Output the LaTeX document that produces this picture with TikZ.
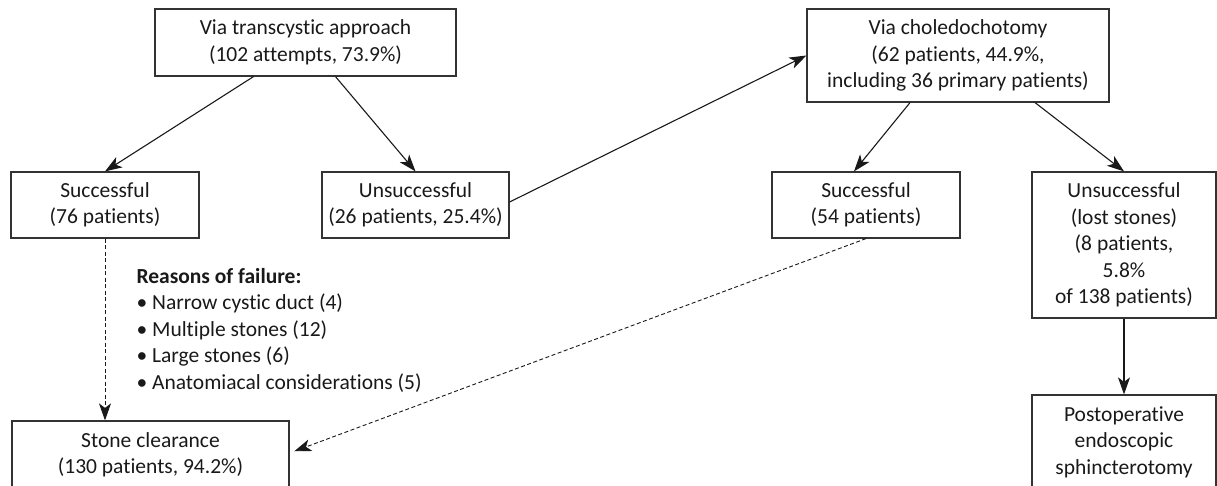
\documentclass[tikz,border=0pt]{standalone}
\usepackage{fontspec}
\setmainfont[Ligatures=NoCommon]{Carlito}
\usetikzlibrary{arrows.meta}
\begin{document}
\begin{tikzpicture}[x=1pt, y=-1pt, line width=1.1pt,
		box/.style={draw=black!80, line width=1.2pt, inner sep=0pt, align=center, text=black!90,
			font=\fontsize{21.5}{26.5}\selectfont},
		link/.style={draw=black!90, line width=1.1pt, -{Stealth[length=17pt, width=12pt, inset=4.5pt]}},
		dlink/.style={link, line width=0.9pt, dash pattern=on 4pt off 2.5pt}]
		\useasboundingbox (0,0) rectangle (1217,486);
		\clip (0,0) rectangle (1217,486);
		\node[box, minimum width=301, minimum height=67] (trans) at (305.5, 42.5) {Via transcystic approach\\(102 attempts, 73.9\%)};
		\node[box, minimum width=188, minimum height=66] (succL) at (105, 205) {Successful\\(76 patients)};
		\node[box, minimum width=187, minimum height=66] (unsL) at (415.5, 205) {Unsuccessful\\(26 patients, 25.4\%)};
		\node[box, minimum width=302, minimum height=93] (chol) at (958, 55.5) {Via choledochotomy\\(62 patients, 44.9\%,\\including 36 primary patients)};
		\node[box, minimum width=188, minimum height=66] (succR) at (866, 205) {Successful\\(54 patients)};
		\node[box, minimum width=184, minimum height=146] (unsR) at (1124, 245) {Unsuccessful\\(lost stones)\\(8 patients,\\5.8\%\\of 138 patients)};
		\node[box, minimum width=184, minimum height=94] (postop) at (1124, 442) {Postoperative\\endoscopic\\sphincterotomy};
		\node[box, minimum width=277, minimum height=68] (clear) at (150.5, 455) {Stone clearance\\(130 patients, 94.2\%)};
		\node[anchor=west, align=left, inner sep=0pt, text=black!90, font=\fontsize{21.5}{26.5}\selectfont] (reasons) at (136, 330)
			{\textbf{Reasons of failure:}\\• Narrow cystic duct (4)\\• Multiple stones (12)\\• Large stones (6)\\• Anatomiacal considerations (5)};
		\draw[link] ([xshift=-52pt]trans.south) -- (succL.north);
		\draw[link] ([xshift=30pt]trans.south) -- (unsL.north);
		\draw[link] ([yshift=3pt]unsL.east) -- (chol.west);
		\draw[link] ([xshift=-48pt]chol.south) -- ([xshift=-12pt]succR.north);
		\draw[link] ([xshift=77pt]chol.south) -- (unsR.north);
		\draw[link] (unsR.south) -- (postop.north);
		\draw[dlink] (succL.south) -- (succL.south |- clear.north);
		\draw[dlink, shorten >=5pt] (succR.south) -- ([yshift=2pt]clear.east);
	\end{tikzpicture}
\end{document}
